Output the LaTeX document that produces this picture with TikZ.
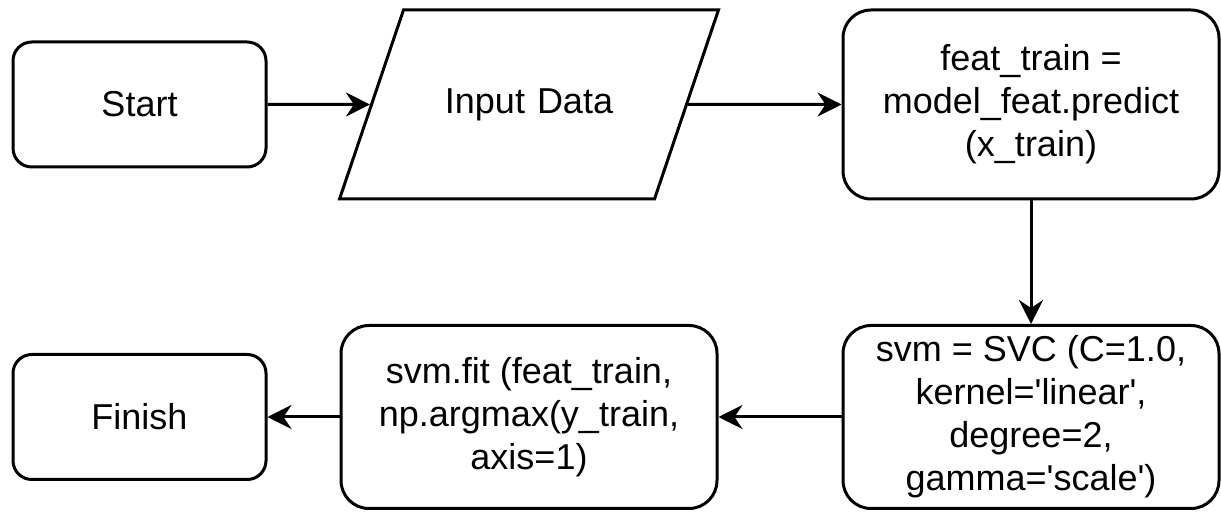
\documentclass[tikz,border=0pt]{standalone}
\usepackage{fontspec}
\setmainfont{Liberation Sans}
\usetikzlibrary{arrows.meta,shapes.geometric}
\tikzset{
  box/.style={draw, line width=1.5pt, fill=white, align=center, inner sep=2pt,
    font=\fontsize{18}{21.5}\selectfont},
  term/.style={box, rounded corners=9.4pt, minimum width=126.5pt, minimum height=62.5pt},
  proc/.style={box, rounded corners=14pt, minimum width=188pt, minimum height=91.5pt},
  io/.style={box, trapezium, trapezium left angle=71.3, trapezium right angle=108.7,
    text width=100pt, text height=12pt, text depth=3pt,
    inner xsep=12.75pt, inner ysep=39.75pt},
}
\begin{document}
\begin{tikzpicture}[x=0.5pt, y=-0.5pt]
      \useasboundingbox (0,0) rectangle (1221,512);
      \draw
        (139.5,104.5) node[term] (start) {Start}
        (529,104.5) node[io] (input) {Input Data}
        (1031,104.5) node[proc, minimum height=94.5pt] (feat) {feat\_train =\\model\_feat.predict\\(x\_train)}
        (1031,417) node[proc] (svc) {svm = SVC (C=1.0,\\kernel=\textquotesingle linear\textquotesingle,\\degree=2,\\gamma=\textquotesingle scale\textquotesingle)}
        (529,417) node[proc] (fit) {svm.fit (feat\_train,\\np.argmax(y\_train,\\axis=1)}
        (139.5,417) node[term] (finish) {Finish};
      \begin{scope}[line width=1.5pt, -{Stealth[length=12pt, width=12pt, inset=4pt]}]
        \draw (start) to (input);
        \draw (input) to (feat);
        \draw (feat) to (svc);
        \draw (svc) to (fit);
        \draw (fit) to (finish);
      \end{scope}
    \end{tikzpicture}
\end{document}
